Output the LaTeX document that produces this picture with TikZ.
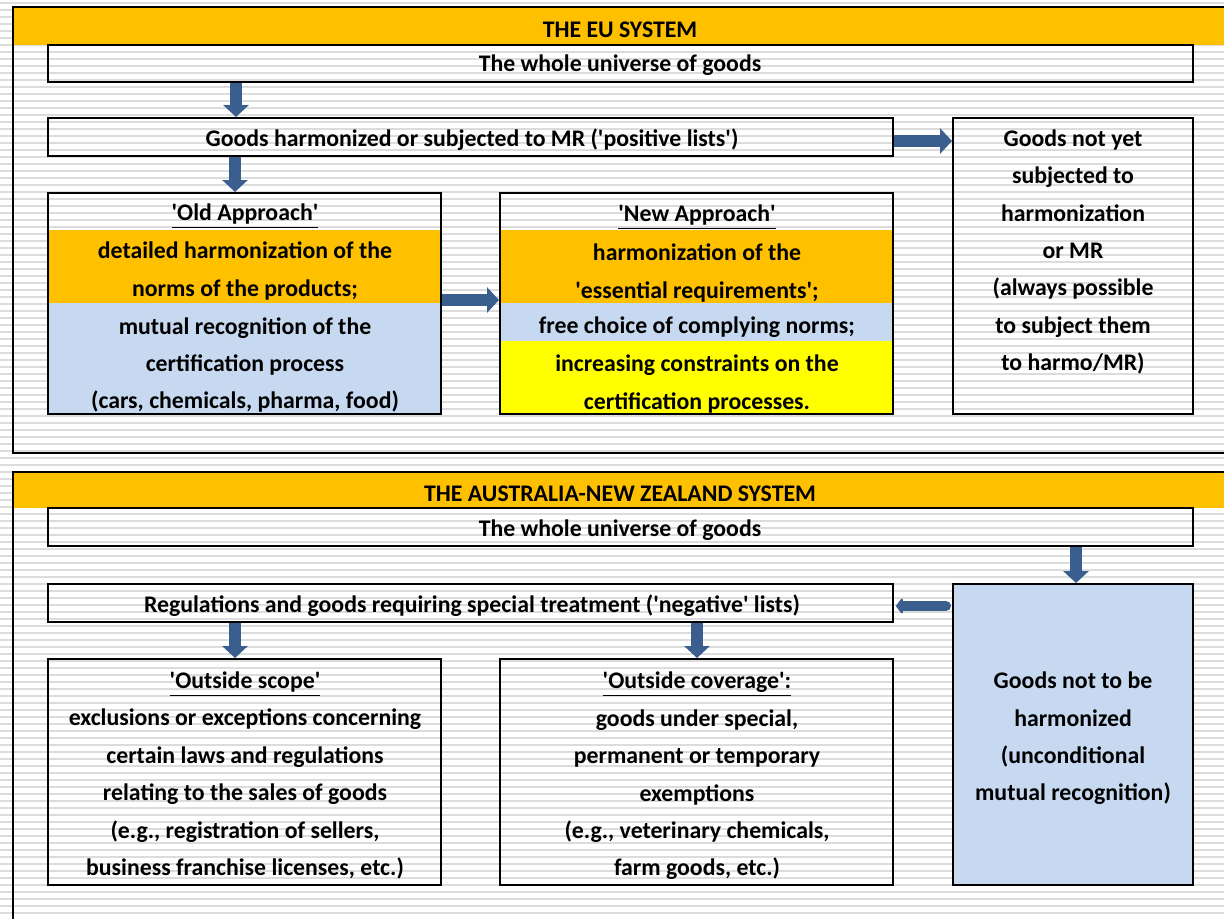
\documentclass[tikz,border=0pt]{standalone}
\usepackage{fontspec}
\setmainfont{Carlito}
\usetikzlibrary{arrows.meta,fit}
\definecolor{hdr}{HTML}{FFC000}
\definecolor{lblue}{HTML}{C6D9F1}
\definecolor{yel}{HTML}{FFFF00}
\definecolor{arrc}{HTML}{3A5F8E}
\definecolor{stripe}{HTML}{DCDCDC}
\newcommand\q{\textquotesingle}
\begin{document}
\begin{tikzpicture}[x=0.5pt,y=-0.5pt,
  font=\bfseries\fontsize{11.9}{18.7}\selectfont,
  box/.style={draw, line width=1pt, inner sep=0pt},
  band/.style={inner sep=0pt, draw=none},
  txt/.style={align=center, inner sep=0pt},
  barrow/.style={draw=arrc, line width=6.25pt, -{Triangle[length=6pt,width=12.5pt]}},
  rarrow/.style={draw=arrc, line width=5pt, line cap=round, -{Triangle[round,length=3.5pt,width=9pt]}}
]
\useasboundingbox (0,0) rectangle (1224,918);
\fill[white] (0,0) rectangle (1224,918);
\foreach \s in {3,10,...,918} \draw[stripe, line width=1pt] (0,\s) -- (1224,\s);

% ---------------- EU system ----------------
\node[band, fill=hdr, fit={(13,7) (1240,45)}] (euhdr) {};
\node[txt] at (620,30) {THE EU SYSTEM};
\node[box, line width=1.1pt, fit={(13,7) (1240,453)}] (euout) {};

\node[box, fit={(48,45) (1193,82)}] (whole1) {};
\node[txt] at (620,65) {The whole universe of goods};

\node[box, fit={(48,118) (893,156)}] (harm) {};
\node[txt] at (472,140) {Goods harmonized or subjected to MR (\q positive lists\q)};

\node[box, fit={(953,118) (1193,414)}] (notyet) {};
\node[txt] at (1073,252) {Goods not yet\\subjected to\\harmonization\\or MR\\(always possible\\to subject them\\to harmo/MR)};

% Old approach
\node[band, fill=hdr, fit={(48,230) (441,303)}] (oldo) {};
\node[band, fill=lblue, fit={(48,303) (441,414)}] (oldb) {};
\node[box, fit={(48,193) (441,414)}] (old) {};
\node[txt] at (245,216) {\underline{\q Old Approach\q}};
\node[txt] at (245,271) {detailed harmonization of the\\norms of the products;};
\node[txt] at (245,365) {mutual recognition of the\\certification process\\(cars, chemicals, pharma, food)};

% New approach
\node[band, fill=hdr, fit={(500,230) (893,303)}] (newo) {};
\node[band, fill=lblue, fit={(500,303) (893,341)}] (newb) {};
\node[band, fill=yel, fit={(500,341) (893,414)}] (newy) {};
\node[box, fit={(500,193) (893,414)}] (new) {};
\node[txt] at (697,217) {\underline{\q New Approach\q}};
\node[txt] at (697,273) {harmonization of the\\\q essential requirements\q;};
\node[txt] at (697,327) {free choice of complying norms;};
\node[txt] at (697,384) {increasing constraints on the\\certification processes.};

\coordinate (ea1) at (236,0);
\coordinate (ea2) at (235,0);
\coordinate (ea3) at (0,141);
\coordinate (ea4) at (0,300);
\draw[barrow] (whole1.south -| ea1) -- (harm.north -| ea1);
\draw[barrow] (harm.south -| ea2) -- (old.north -| ea2);
\draw[barrow] (harm.east |- ea3) -- (notyet.west |- ea3);
\draw[barrow] (old.east |- ea4) -- (new.west |- ea4);

% ---------------- ANZ system ----------------
\node[band, fill=hdr, fit={(13,472) (1240,508)}] (anzhdr) {};
\node[txt] at (620,494) {THE AUSTRALIA-NEW ZEALAND SYSTEM};
\draw[line width=1.1pt] (13,935) -- (13,472) -- (1240,472);

\node[box, fit={(48,508) (1193,546)}] (whole2) {};
\node[txt] at (620,530) {The whole universe of goods};

\node[box, fit={(48,584) (893,622)}] (reg) {};
\node[txt] at (472,606) {Regulations and goods requiring special treatment (\q negative\q\ lists)};

\node[box, fill=lblue, fit={(953,584) (1193,885)}] (noth) {};
\node[txt] at (1073,738.5) {Goods not to be\\harmonized\\(unconditional\\mutual recognition)};

\node[box, fit={(48,659) (441,885)}] (scope) {};
\node[txt] at (245,775.5) {\underline{\q Outside scope\q}\\exclusions or exceptions concerning\\certain laws and regulations\\relating to the sales of goods\\(e.g., registration of sellers,\\business franchise licenses, etc.)};

\node[box, fit={(500,659) (893,885)}] (cover) {};
\node[txt] at (697,776) {\underline{\q Outside coverage\q:}\\goods under special,\\permanent or temporary\\exemptions\\(e.g., veterinary chemicals,\\farm goods, etc.)};

\coordinate (aa1) at (1076,0);
\coordinate (aa2) at (0,606);
\coordinate (aa3) at (235,0);
\coordinate (aa4) at (697,0);
\draw[barrow] (whole2.south -| aa1) -- (noth.north -| aa1);
\draw[rarrow] ([xshift=-3pt]noth.west |- aa2) -- ([xshift=1pt]reg.east |- aa2);
\draw[barrow] (reg.south -| aa3) -- (scope.north -| aa3);
\draw[barrow] (reg.south -| aa4) -- (cover.north -| aa4);
\end{tikzpicture}
\end{document}
